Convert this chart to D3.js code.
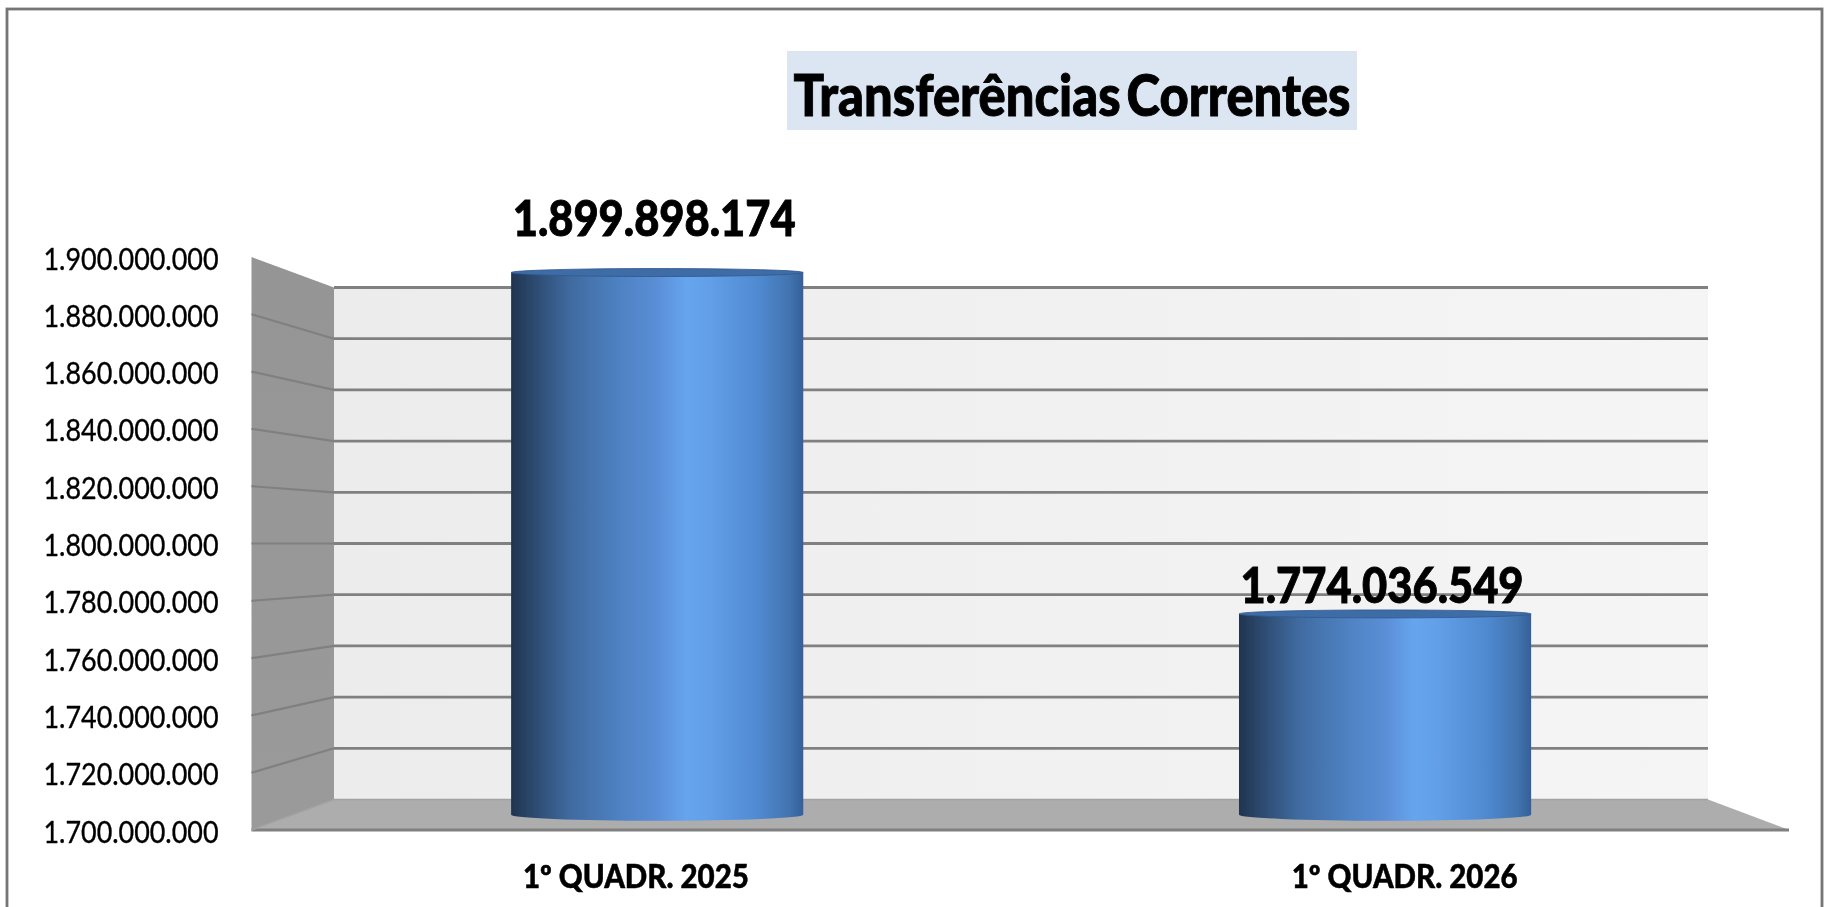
<!DOCTYPE html>
<html lang="pt"><head><meta charset="utf-8">
<script src="https://cdn.jsdelivr.net/npm/d3@7"></script>
<style>
html,body{margin:0;padding:0;background:#fff;overflow:hidden}
svg{display:block}
text{font-family:Lato,"Open Sans",sans-serif;fill:#000}
</style></head><body>
<svg id="c" width="1825" height="907"></svg>
<script>
const titleText = "Transferências Correntes";
const categories = ["1º QUADR. 2025", "1º QUADR. 2026"];
const values = [1899898174, 1774036549];
const tickValues = [1700000000,1720000000,1740000000,1760000000,1780000000,1800000000,1820000000,1840000000,1860000000,1880000000,1900000000];
const domainY = [1700000000, 1900000000];

const svg = d3.select("#c");
const ptBR = d3.formatLocale({decimal:",",thousands:".",grouping:[3],currency:["R$",""]});
const fmt = ptBR.format(",d");

// front plane and back plane of the 3D box; bars stand midway between them
const F = {l:251.5, r:1789, t:257, b:830};
const B = {l:334, r:1708, t:287.5, b:799.5};
const M = {l:(F.l+B.l)/2+.5, r:(F.r+B.r)/2+.5, t:(F.t+B.t)/2, b:(F.b+B.b)/2};
const yF = d3.scaleLinear().domain(domainY).range([F.b,F.t]);
const yB = d3.scaleLinear().domain(domainY).range([B.b,B.t]);
const yM = d3.scaleLinear().domain(domainY).range([M.b,M.t]);
const xF = d3.scaleBand().domain(categories).range([F.l,F.r]).paddingInner(.6).paddingOuter(.3);
const xM = d3.scaleBand().domain(categories).range([M.l,M.r]).paddingInner(.6).paddingOuter(.3);

const defs = svg.append("defs");
const grad = (id,stops,x2=1,y2=0)=>{
  const g = defs.append("linearGradient").attr("id",id).attr("x1",0).attr("y1",0).attr("x2",x2).attr("y2",y2);
  stops.forEach(([o,c])=>g.append("stop").attr("offset",o).attr("stop-color",c));
};
grad("barG",[[0,"#20344f"],[.06,"#2a4568"],[.2,"#3f6a9f"],[.38,"#4f83c4"],[.5,"#5a8ed6"],[.6,"#66a5ee"],[.68,"#629fe8"],[.85,"#4f89d0"],[.95,"#4274b0"],[1,"#35609a"]]);
grad("wallG",[[0,"#ececec"],[1,"#f5f5f5"]]);
grad("sideG",[[0,"#959595"],[1,"#9a9a9a"]],0,1);
defs.append("filter").attr("id","soft").attr("x","-5%").attr("y","-5%").attr("width","110%").attr("height","110%")
  .append("feGaussianBlur").attr("stdDeviation",.6);

const root = svg.append("g");
// frame
root.append("rect").attr("x",7).attr("y",9).attr("width",1815).attr("height",920)
  .attr("fill","#fff").attr("stroke","#747474").attr("stroke-width",2.8);

// title
root.append("rect").attr("x",787).attr("y",51).attr("width",570).attr("height",79).attr("fill","#dce6f2");
root.append("text").attr("x",1072).attr("y",93).attr("text-anchor","middle").attr("dominant-baseline","central")
  .attr("font-size",58).attr("font-weight",900).attr("stroke","#000").attr("stroke-width",1).attr("word-spacing",-7)
  .attr("textLength",557).attr("lengthAdjust","spacingAndGlyphs").text(titleText);

// back wall
root.append("rect").attr("x",B.l).attr("y",B.t).attr("width",B.r-B.l).attr("height",B.b-B.t).attr("fill","url(#wallG)");
// side wall
root.append("path").attr("d",d3.line()([[F.l,F.t],[B.l,B.t],[B.l,B.b],[F.l,F.b]])+"Z").attr("fill","url(#sideG)");
// floor
root.append("path").attr("d",d3.line()([[F.l,F.b],[B.l,B.b],[B.r,B.b],[F.r,F.b]])+"Z").attr("fill","#adadad");

// gridlines
const gridVals = tickValues.filter(v=>v>domainY[0]);
root.selectAll(".g").data(gridVals).join("line").attr("class","g")
  .attr("x1",B.l).attr("x2",B.r).attr("y1",d=>yB(d)).attr("y2",d=>yB(d)).attr("stroke","#808080").attr("stroke-width",2.8);
root.selectAll(".s").data(gridVals.slice(0,-1)).join("line").attr("class","s")
  .attr("x1",F.l).attr("x2",B.l).attr("y1",d=>yF(d)).attr("y2",d=>yB(d)).attr("stroke","#808080").attr("stroke-width",2.2);
root.append("line").attr("x1",B.l).attr("x2",B.r).attr("y1",B.b).attr("y2",B.b).attr("stroke","#a2a2a2").attr("stroke-width",1.5);
root.append("line").attr("x1",F.l).attr("x2",F.r).attr("y1",F.b).attr("y2",F.b).attr("stroke","#808080").attr("stroke-width",3);
root.append("line").attr("x1",F.l).attr("x2",B.l).attr("y1",F.b).attr("y2",B.b).attr("stroke","#a2a2a2").attr("stroke-width",1.5);

// cylinders
const ryTop = 4, ryBottom = 6;
const labelRise = [56, 30]; // distance of each value label above its bar top
const bars = root.selectAll(".bar").data(categories.map((c,i)=>({c,v:values[i],i}))).join("g").attr("class","bar");
bars.append("path").attr("fill","url(#barG)").attr("d",d=>{
  const x0=xM(d.c)-.5, x1=x0+xM.bandwidth()+1, rx=(x1-x0)/2, t=yM(d.v), e=yM(domainY[0]);
  return `M${x0},${t}L${x0},${e}A${rx},${ryBottom} 0 0 0 ${x1},${e}L${x1},${t}Z`;
});
bars.append("ellipse").attr("cx",d=>xM(d.c)+xM.bandwidth()/2).attr("cy",d=>yM(d.v)).attr("rx",xM.bandwidth()/2+.5).attr("ry",ryTop)
  .attr("fill","#3d6ca6").attr("stroke","#31598c").attr("stroke-width",.8);

// value labels
bars.append("text").attr("x",d=>xM(d.c)+xM.bandwidth()/2-3).attr("y",d=>yM(d.v)-labelRise[d.i])
  .attr("text-anchor","middle").attr("dominant-baseline","central")
  .attr("font-size",49).attr("font-weight",900).attr("stroke","#000").attr("stroke-width",.9)
  .attr("textLength",283).attr("lengthAdjust","spacingAndGlyphs")
  .text(d=>fmt(d.v));

// axes
const axL = root.append("g").attr("transform",`translate(${F.l-33},0)`)
  .call(d3.axisLeft(yF).tickValues(tickValues).tickSize(0).tickPadding(0).tickFormat(fmt));
axL.select(".domain").remove();
axL.selectAll("text").attr("font-size",30).attr("fill","#000").attr("stroke","#000").attr("stroke-width",.35).attr("dy",null).attr("dominant-baseline","central")
  .attr("textLength",175).attr("lengthAdjust","spacingAndGlyphs");
const axB = root.append("g").attr("transform",`translate(0,${F.b})`)
  .call(d3.axisBottom(xF).tickSize(0).tickPadding(0));
axB.select(".domain").remove();
axB.selectAll("text").attr("font-size",32).attr("font-weight",900).attr("fill","#000").attr("stroke","#000").attr("stroke-width",.5).attr("y",45).attr("dy",null).attr("dominant-baseline","central")
  .attr("textLength",226).attr("lengthAdjust","spacingAndGlyphs");
root.selectAll("text").style("font-family",'Lato,"Open Sans",sans-serif');
root.attr("filter","url(#soft)");
</script></body></html>
